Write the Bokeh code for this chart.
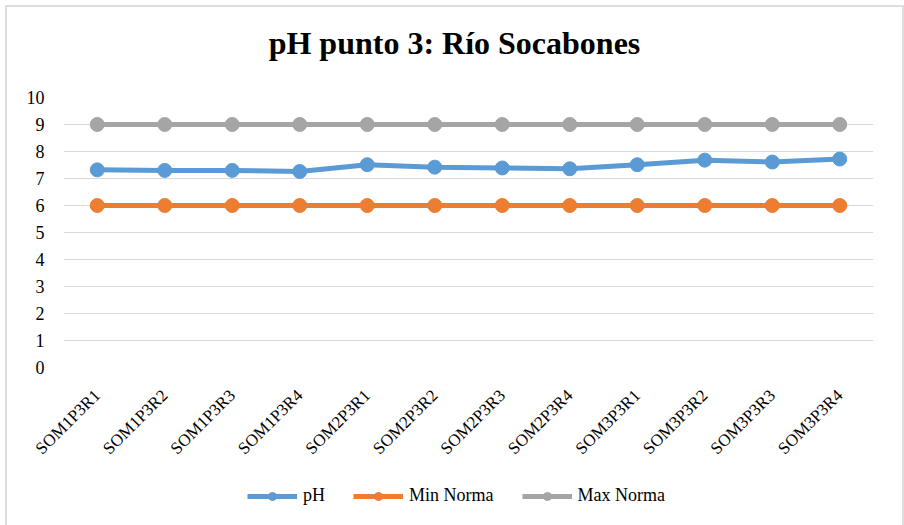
import math
from bokeh.plotting import figure
from bokeh.layouts import column
from bokeh.models import (FactorRange, Range1d, Legend, LegendItem, Label,
                          FixedTicker, ColumnDataSource)
from bokeh.embed import file_html
from bokeh.resources import INLINE

categories = ["SOM1P3R1", "SOM1P3R2", "SOM1P3R3", "SOM1P3R4",
              "SOM2P3R1", "SOM2P3R2", "SOM2P3R3", "SOM2P3R4",
              "SOM3P3R1", "SOM3P3R2", "SOM3P3R3", "SOM3P3R4"]
ph_values = [7.32, 7.30, 7.30, 7.26, 7.51, 7.42, 7.39, 7.36, 7.51, 7.68, 7.61, 7.72]
min_norma = [6, 6, 6, 6, 6, 6, 6, 6, 6, 6, 6, 6]
max_norma = [9, 9, 9, 9, 9, 9, 9, 9, 9, 9, 9, 9]
y_ticks = [0, 1, 2, 3, 4, 5, 6, 7, 8, 9, 10]
title_text = "pH punto 3: Río Socabones"
series_names = ["pH", "Min Norma", "Max Norma"]
series_colors = ["#5B9BD5", "#ED7D31", "#A5A5A5"]

FONT = "Liberation Serif"

# title strip
p0 = figure(width=895, height=70, output_backend="svg", toolbar_location=None,
            min_border=0, x_range=Range1d(0, 1), y_range=Range1d(0, 1),
            x_axis_location=None, y_axis_location=None)
p0.grid.grid_line_color = None
p0.outline_line_color = None
p0.border_fill_color = "white"
title_label = Label(x=391, y=35, x_units="screen", y_units="screen", text=title_text,
                    text_align="center", text_baseline="alphabetic",
                    text_font=FONT, text_font_size="32px", text_font_style="bold",
                    text_color="black")
p0.add_layout(title_label)

# main chart
p = figure(width=895, height=390, output_backend="svg", toolbar_location=None,
           x_range=FactorRange(*categories, range_padding=0),
           y_range=Range1d(0, 10),
           min_border_left=56, min_border_right=29,
           min_border_top=20, min_border_bottom=99)
p.outline_line_color = None
p.background_fill_color = "white"
p.border_fill_color = "white"

p.xgrid.grid_line_color = None
p.ygrid.grid_line_color = "#d9d9d9"
p.ygrid.grid_line_width = 1

p.yaxis.ticker = FixedTicker(ticks=y_ticks)
p.yaxis.axis_line_color = None
p.yaxis.major_tick_line_color = None
p.yaxis.minor_tick_line_color = None
p.yaxis.major_label_standoff = 13
p.yaxis.major_label_text_font = FONT
p.yaxis.major_label_text_font_size = "18px"
p.yaxis.major_label_text_color = "black"

p.xaxis.axis_line_color = None
p.xaxis.major_tick_line_color = None
p.xaxis.minor_tick_line_color = None
p.xaxis.major_label_orientation = math.pi / 4
p.xaxis.major_label_standoff = 19
p.xaxis.major_label_text_font = FONT
p.xaxis.major_label_text_font_size = "17px"
p.xaxis.major_label_text_color = "black"

src = ColumnDataSource(dict(x=categories, ph=ph_values, mn=min_norma, mx=max_norma))
cols = ["ph", "mn", "mx"]
for col, color in zip(cols, series_colors):
    p.line("x", col, source=src, line_color=color, line_width=5)
    p.scatter("x", col, source=src, size=14, fill_color=color, line_color=color)

# legend strip below the chart
p2 = figure(width=895, height=58, output_backend="svg", toolbar_location=None,
            min_border=0, x_range=Range1d(0, 1), y_range=Range1d(0, 1),
            x_axis_location=None, y_axis_location=None)
p2.grid.grid_line_color = None
p2.outline_line_color = None
p2.border_fill_color = "white"
items = []
for name, color in zip(series_names, series_colors):
    l = p2.line(x=[-5, -4], y=[-5, -5], line_color=color, line_width=5)
    s = p2.scatter(x=[-5], y=[-5], size=10, fill_color=color, line_color=color)
    items.append(LegendItem(label=name, renderers=[l, s]))
legend = Legend(items=items, orientation="horizontal", location=(184, 19),
                label_text_font=FONT, label_text_font_size="18px", label_text_color="black",
                glyph_width=50, glyph_height=20, label_standoff=6, spacing=28,
                padding=5, margin=0, border_line_color=None, background_fill_alpha=0)
p2.add_layout(legend, "center")

layout = column(p0, p, p2, spacing=0,
                styles={"margin-left": "5px", "margin-top": "5px",
                        "border": "2px solid #dedede"})

open("out.html", "w").write(file_html(layout, INLINE))
